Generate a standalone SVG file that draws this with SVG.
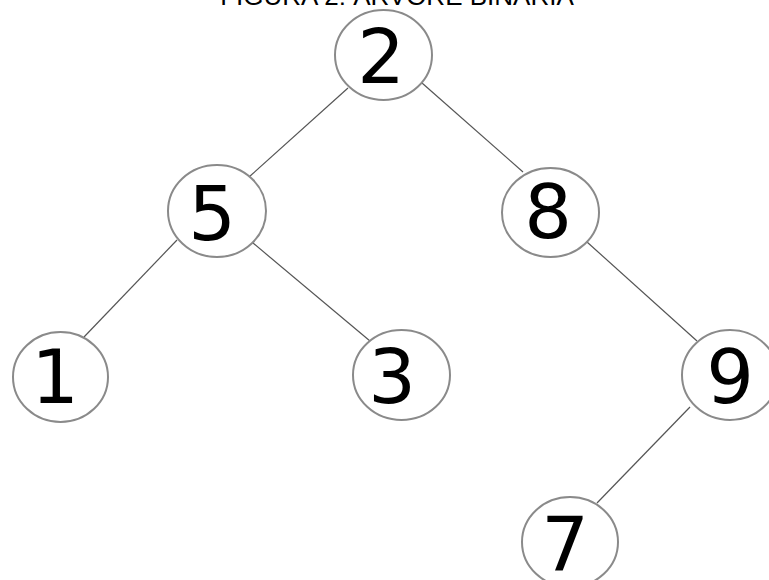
<svg xmlns="http://www.w3.org/2000/svg" width="769" height="580" viewBox="0 0 769 580">
<style>
.node ellipse{fill:#fff;stroke:#8a8a8a;stroke-width:2}
.node text{font-family:"DejaVu Sans",sans-serif;font-size:75px;fill:#000;text-anchor:middle}
#edges line{stroke:#555;stroke-width:1.2}
.title{font-family:"Liberation Sans",Arial,sans-serif;font-size:26px;fill:#000;text-anchor:middle}
</style>
<rect width="769" height="580" fill="#fff"/>
<text class="title" x="397" y="5">FIGURA 2: ÁRVORE BINÁRIA</text>
<g id="edges">
<line x1="348" y1="88" x2="249" y2="177"/>
<line x1="422" y1="83" x2="523" y2="172"/>
<line x1="177" y1="240" x2="84" y2="337"/>
<line x1="253" y1="243" x2="370" y2="341"/>
<line x1="587" y1="242" x2="697" y2="341"/>
<line x1="690" y1="407" x2="597" y2="503"/>
</g>
<g id="n2" class="node"><ellipse cx="383.5" cy="55" rx="48.5" ry="45"/><text x="381" y="83">2</text></g>
<g id="n5" class="node"><ellipse cx="217" cy="211" rx="49" ry="46"/><text x="212" y="240">5</text></g>
<g id="n8" class="node"><ellipse cx="550.5" cy="212.5" rx="48.5" ry="44.5"/><text x="548" y="238">8</text></g>
<g id="n1" class="node"><ellipse cx="60.5" cy="377" rx="47.5" ry="45"/><text x="55" y="403">1</text></g>
<g id="n3" class="node"><ellipse cx="401.5" cy="375" rx="48.5" ry="45"/><text x="392" y="403">3</text></g>
<g id="n9" class="node"><ellipse cx="730" cy="375" rx="48" ry="45"/><text x="730" y="403">9</text></g>
<g id="n7" class="node"><ellipse cx="570" cy="542" rx="48" ry="45"/><text x="565" y="570">7</text></g>
</svg>
